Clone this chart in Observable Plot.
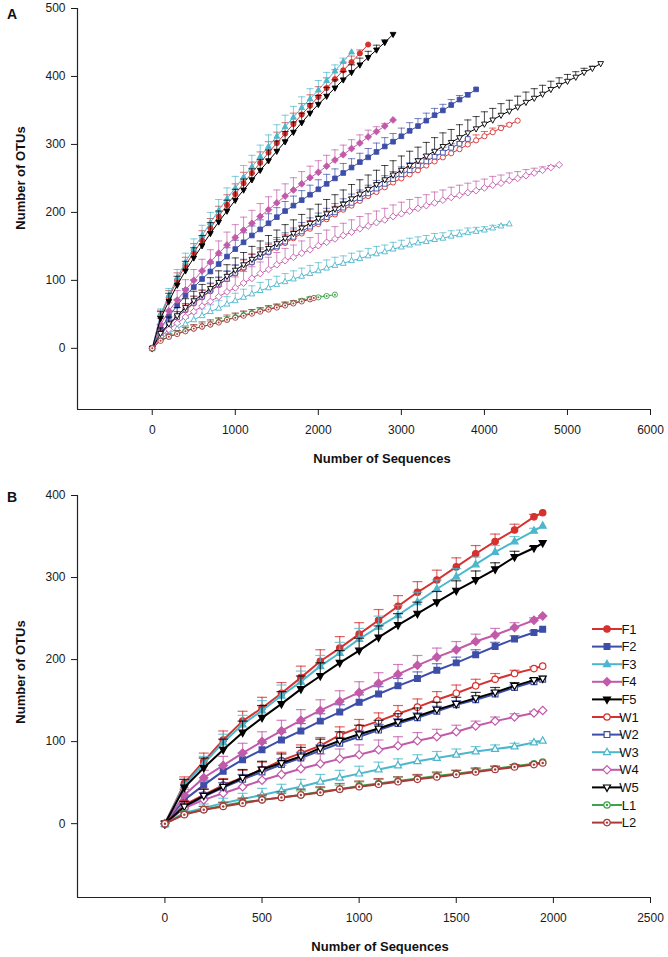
<!DOCTYPE html>
<html><head><meta charset="utf-8">
<script src="https://cdn.jsdelivr.net/npm/d3@7"></script>
<script src="https://cdn.jsdelivr.net/npm/@observablehq/plot@0.6"></script>
<style>
body{margin:0;background:#fff;}
#wrap{position:relative;width:668px;height:957px;overflow:hidden;}
#wrap svg{display:block;}
</style></head><body><div id="wrap"></div>
<script>
// ---- series meta ----
const seriesNames  = ["F1","F2","F3","F4","F5","W1","W2","W3","W4","W5","L1","L2"];
const seriesColors = ["#d6302f","#3d4ea8","#4cb7cc","#c25aa9","#000000","#d6302f","#3d4ea8","#4cb7cc","#c25aa9","#000000","#3fa24a","#a83a3a"];
const seriesShapes = ["circle","square","triangle","diamond","triangleDown","circle","square","triangle","diamond","triangleDown","dotCircle","dotCircle"];
const seriesFilled = [true,true,true,true,true,false,false,false,false,false,false,false];
const stepSize = 100;

// ---- panel A : full depth ----
const depthA = [2600,3900,2400,2900,2900,4400,3800,4300,4900,5400,2200,1945];
const xTicksA = [0,1000,2000,3000,4000,5000,6000];
const yTicksA = [0,100,200,300,400,500];
const F1_A = [0,48,75,100,122,141,159,177,194,211,227,243,258,273,288,302,316,330,344,357,370,383,396,409,421,434,447];
const F2_A = [0,29,47,63,78,90,102,113,124,135,146,156,166,175,184,193,202,210,218,226,234,242,250,258,266,274,281,289,297,304,312,320,327,335,343,350,358,366,373,381];
const F3_A = [0,50,78,104,127,147,166,185,203,220,236,252,267,282,297,312,326,340,354,367,380,394,408,422,436];
const F4_A = [0,35,55,71,86,100,114,127,140,152,163,174,184,194,204,214,224,233,242,251,259,268,277,285,294,302,311,319,327,336];
const F5_A = [0,44,69,93,114,133,151,169,186,202,218,233,248,262,276,290,304,318,332,346,359,371,383,395,406,417,428,439,450,462];
const W1_A = [0,22,35,46,56,66,75,84,93,102,110,118,126,134,141,148,155,162,169,176,183,190,197,204,210,217,224,230,237,244,250,256,262,269,275,281,287,293,300,306,312,318,324,329,335];
const W2_A = [0,20,34,46,57,67,76,85,94,102,111,119,127,135,142,150,157,164,172,179,186,193,200,207,214,221,228,235,242,249,256,262,269,275,282,288,295,301,308];
const W3_A = [0,14,22,29,36,42,48,54,59,65,70,75,80,85,89,94,98,102,106,110,114,118,122,125,129,132,136,139,142,146,149,152,155,157,160,162,165,167,170,172,174,177,180,183];
const W4_A = [0,17,28,37,46,54,62,69,76,83,89,96,103,110,116,123,129,134,140,145,151,156,161,166,171,176,180,185,189,194,198,202,206,210,214,218,222,225,229,232,236,240,243,247,250,254,258,262,266,270];
const W5_A = [0,22,36,48,60,70,79,88,97,106,115,123,131,139,147,154,162,169,177,184,191,198,205,212,220,227,234,241,248,255,262,269,276,283,290,297,303,310,317,323,330,336,343,349,355,362,368,374,381,387,393,399,406,412,419];
const L1_A = [0,12,17,22,26,29,32,35,39,42,46,49,52,55,58,61,64,67,70,73,75,77,79];
const L2_A = [0,11,17,21,25,29,32,35,38,42,45,48,51,54,57,60,63,66,69,72,74];

const F1_A_sd = [0,8,10,11,12,13,14,14,15,15,15,16,16,16,16,16,16,16,16,16,15,15,14,12,9,5,0];
const F2_A_sd = [0,6,8,9,10,11,12,12,13,13,13,14,14,14,14,14,14,14,14,14,14,14,14,14,13,13,13,13,13,12,12,12,11,11,10,9,8,6,3,0];
const F3_A_sd = [0,8,10,12,13,14,15,15,16,16,17,17,17,17,17,17,17,16,16,15,14,12,9,5,0];
const F4_A_sd = [0,9,12,14,15,16,17,18,18,19,19,19,19,19,19,19,18,18,18,17,17,16,15,14,13,12,10,7,4,0];
const F5_A_sd = [0,10,12,13,14,15,15,16,16,16,16,16,16,16,16,15,15,15,14,14,13,13,12,12,11,10,9,7,4,0];
const W1_A_sd = [0,5,7,8,9,10,10,11,11,11,12,12,12,12,12,12,12,12,12,12,12,12,12,12,12,12,12,12,11,11,11,11,11,10,10,10,9,9,8,8,7,6,4,2,0];
const W2_A_sd = [0,5,7,8,9,10,10,11,11,12,12,12,12,13,13,13,13,13,13,13,13,13,13,13,13,12,12,12,12,11,11,11,10,10,9,8,6,3,0];
const W3_A_sd = [0,5,6,7,8,9,10,10,11,11,11,12,12,12,12,12,12,12,12,12,12,12,12,11,11,11,11,11,10,10,10,10,9,9,9,8,8,7,7,6,5,4,2,0];
const W4_A_sd = [0,7,9,11,12,13,14,15,15,16,16,17,17,17,18,18,18,18,18,18,18,18,18,18,18,18,18,17,17,17,17,17,16,16,16,15,15,15,14,14,13,13,12,11,10,9,7,5,3,0];
const W5_A_sd = [0,8,10,12,13,14,15,16,17,17,18,18,19,19,19,20,20,20,20,21,21,21,21,21,21,21,21,21,21,21,21,21,20,20,20,20,19,19,19,18,18,17,17,16,16,15,14,13,12,11,10,8,6,3,0];
const L1_A_sd = [0,3,4,4,5,5,5,5,5,5,5,5,5,4,4,4,4,3,3,3,2,1,0];
const L2_A_sd = [0,3,4,5,6,6,7,7,7,7,7,7,6,6,6,5,5,4,3,2,0];

// ---- panel B : rarefied to 1945 ----
const depthB = [1945,1945,1945,1945,1945,1945,1945,1945,1945,1945,1945,1945];
const xTicksB = [0,500,1000,1500,2000,2500];
const yTicksB = [0,100,200,300,400];
const F1_B = [0,49,76,102,125,141,159,178,198,214,231,248,265,282,297,313,329,344,358,374,379];
const F2_B = [0,29,47,64,78,90,102,113,125,136,148,158,168,177,187,196,206,216,225,233,237];
const F3_B = [0,47,73,99,121,138,156,173,192,208,225,240,254,270,286,301,316,331,344,357,363];
const F4_B = [0,35,56,71,86,100,113,126,138,149,160,171,182,193,203,212,222,230,239,248,253];
const F5_B = [0,44,68,90,111,129,146,164,180,196,211,227,242,256,270,284,297,310,325,336,342];
const W1_B = [0,23,35,47,56,66,77,86,95,108,117,125,134,142,151,159,168,176,183,189,192];
const W2_B = [0,20,33,44,54,63,72,80,89,98,106,114,122,129,137,145,151,158,166,173,176];
const W3_B = [0,13,19,25,30,35,40,45,51,56,61,66,71,76,80,84,88,91,94,99,101];
const W4_B = [0,19,29,37,45,53,60,67,73,79,84,90,95,101,106,112,119,125,130,135,138];
const W5_B = [0,21,34,45,56,66,74,82,92,101,109,116,124,131,139,146,153,160,168,175,177];
const L1_B = [0,12,17,22,26,29,32,35,39,42,46,49,52,55,58,61,64,67,70,73,75];
const L2_B = [0,11,17,21,25,29,32,35,38,42,45,48,51,54,57,60,63,66,69,72,74];

const F1_B_sd = [0,8,10,11,12,13,13,14,14,14,14,13,13,13,12,11,10,9,7,3,0];
const F2_B_sd = [0,5,6,7,8,8,9,9,9,9,9,9,9,8,8,7,6,5,4,2,0];
const F3_B_sd = [0,7,9,10,11,12,13,13,13,13,13,13,12,12,11,10,9,8,6,3,0];
const F4_B_sd = [0,7,9,11,12,12,13,13,13,13,13,13,12,12,11,10,9,8,6,3,0];
const F5_B_sd = [0,10,12,13,14,15,15,16,16,15,15,14,14,14,13,12,11,8,7,2,0];
const W1_B_sd = [0,5,7,8,9,9,10,10,10,10,10,10,10,10,10,10,8,7,4,2,0];
const W2_B_sd = [0,4,5,6,6,6,7,7,7,7,7,7,6,6,6,5,4,4,3,1,0];
const W3_B_sd = [0,4,5,6,7,8,8,9,9,9,9,9,8,8,8,7,6,5,4,2,0];
const W4_B_sd = [0,6,8,9,10,11,11,12,12,12,12,12,11,10,9,8,6,5,4,2,0];
const W5_B_sd = [0,6,8,9,10,10,11,11,11,11,11,10,10,10,9,8,7,6,4,2,0];
const L1_B_sd = [0,3,4,4,5,5,5,5,5,5,5,5,5,4,4,4,3,3,2,1,0];
const L2_B_sd = [0,3,4,5,6,6,7,7,7,7,7,7,6,6,6,5,5,4,3,2,0];

// ---- symbols ----
function makeSymbol(pts){
  return {draw(ctx,size){const r=Math.sqrt(size/Math.PI);
    ctx.moveTo(pts[0][0]*r,pts[0][1]*r);
    for(let i=1;i<pts.length;i++) ctx.lineTo(pts[i][0]*r,pts[i][1]*r);
    ctx.closePath();}};
}
const SYM = {
  circle: d3.symbolCircle,
  dotCircle: d3.symbolCircle,
  square: makeSymbol([[-0.9,-0.9],[0.9,-0.9],[0.9,0.9],[-0.9,0.9]]),
  triangle: makeSymbol([[0,-1.25],[1.1,0.75],[-1.1,0.75]]),
  triangleDown: makeSymbol([[0,1.25],[1.1,-0.75],[-1.1,-0.75]]),
  diamond: makeSymbol([[0,-1.3],[1.3,0],[0,1.3],[-1.3,0]])
};
const capSymbol = {draw(ctx,size){const r=Math.sqrt(size/Math.PI); ctx.moveTo(-r,0); ctx.lineTo(r,0);}};

const FONT = '"Liberation Sans", Arial, Helvetica, sans-serif';

function panel(cfg){
  const marks = [
    Plot.ruleY([cfg.yDomain[0]], {stroke:"#222", strokeWidth:1.2}),
    Plot.ruleX([cfg.xDomain[0]], {stroke:"#222", strokeWidth:1.2}),
    Plot.axisX(cfg.xTicks, {tickSize:6, tickPadding:10, tickFormat:d=>String(d), label:null, fontSize:12}),
    Plot.axisY(cfg.yTicks, {tickSize:6, tickPadding:6, tickFormat:d=>String(d), label:null, fontSize:12})
  ];
  seriesNames.forEach((name,k)=>{
    const vals = cfg.values[k], sds = cfg.sds[k];
    const rows = vals.map((v,i)=>({x:Math.min(i*stepSize,cfg.depth[k]), y:v, sd:sds[i]}));
    const col = seriesColors[k];
    const eb = rows.filter(d=>d.sd>0);
    marks.push(Plot.ruleX(eb,{x:"x", y1:"y", y2:d=>d.y+d.sd, stroke:col, strokeWidth:cfg.ebWidth, strokeOpacity:cfg.ebOpacity}));
    marks.push(Plot.dot(eb,{x:"x", y:d=>d.y+d.sd, symbol:capSymbol, r:cfg.capR, stroke:col, fill:"none", strokeWidth:cfg.ebWidth, strokeOpacity:cfg.ebOpacity}));
    marks.push(Plot.line(rows,{x:"x", y:"y", stroke:col, strokeWidth:cfg.lineWidth}));
    marks.push(Plot.dot(rows,{x:"x", y:"y", symbol:SYM[seriesShapes[k]], r:cfg.r, fill:seriesFilled[k]?col:"white", stroke:col, strokeWidth:cfg.markStroke}));
    if (seriesShapes[k]==="dotCircle") marks.push(Plot.dot(rows,{x:"x", y:"y", r:cfg.r*0.38, fill:col, stroke:"none"}));
  });
  return Plot.plot({
    width:668, height:cfg.height,
    marginLeft:77, marginRight:18, marginTop:cfg.marginTop, marginBottom:cfg.marginBottom,
    x:{domain:cfg.xDomain}, y:{domain:cfg.yDomain},
    style:{fontFamily:FONT, fontSize:"12px", color:"#1a1a1a", background:"white", overflow:"visible"},
    marks
  });
}

function addText(svg, x, y, txt, opts={}){
  const t = d3.select(svg).append("text")
    .attr("x",x).attr("y",y).text(txt)
    .attr("font-family",FONT).attr("font-size",opts.size||13)
    .attr("font-weight",opts.weight||"bold").attr("fill","#111")
    .attr("text-anchor",opts.anchor||"middle").attr("dominant-baseline","central");
  if (opts.rotate) t.attr("transform",`rotate(-90,${x},${y})`);
  return t;
}

const wrap = document.getElementById("wrap");

const svgA = panel({
  height:470, marginTop:8, marginBottom:61,
  xDomain:[-900,6000], yDomain:[-90,500], xTicks:xTicksA, yTicks:yTicksA,
  values:[F1_A,F2_A,F3_A,F4_A,F5_A,W1_A,W2_A,W3_A,W4_A,W5_A,L1_A,L2_A],
  sds:[F1_A_sd,F2_A_sd,F3_A_sd,F4_A_sd,F5_A_sd,W1_A_sd,W2_A_sd,W3_A_sd,W4_A_sd,W5_A_sd,L1_A_sd,L2_A_sd],
  depth:depthA, r:2.6, capR:3.6, lineWidth:1, markStroke:0.9, ebWidth:1, ebOpacity:0.7
});
wrap.appendChild(svgA);
addText(svgA, 7, 14, "A", {size:14, anchor:"start"});
addText(svgA, 20, 178, "Number of OTUs", {rotate:true});
addText(svgA, 382, 458, "Number of Sequences");

const svgB = panel({
  height:487, marginTop:25, marginBottom:60,
  xDomain:[-450,2500], yDomain:[-90,400], xTicks:xTicksB, yTicks:yTicksB,
  values:[F1_B,F2_B,F3_B,F4_B,F5_B,W1_B,W2_B,W3_B,W4_B,W5_B,L1_B,L2_B],
  sds:[F1_B_sd,F2_B_sd,F3_B_sd,F4_B_sd,F5_B_sd,W1_B_sd,W2_B_sd,W3_B_sd,W4_B_sd,W5_B_sd,L1_B_sd,L2_B_sd],
  depth:depthB, r:3.2, capR:5, lineWidth:2, markStroke:1.2, ebWidth:1.2, ebOpacity:0.75
});
wrap.appendChild(svgB);
addText(svgB, 7, 27, "B", {size:14, anchor:"start"});
addText(svgB, 20, 202, "Number of OTUs", {rotate:true});
addText(svgB, 380, 476, "Number of Sequences");

// legend (panel B)
const lg = d3.select(svgB).append("g").attr("transform","translate(592,159)");
seriesNames.forEach((name,k)=>{
  const g = lg.append("g").attr("transform",`translate(0,${k*17.6})`);
  const col = seriesColors[k];
  g.append("line").attr("x1",0).attr("x2",30).attr("y1",0).attr("y2",0).attr("stroke",col).attr("stroke-width",2);
  const r = 3.2;
  g.append("path").attr("transform","translate(15,0)")
    .attr("d", d3.symbol().type(SYM[seriesShapes[k]]).size(Math.PI*r*r)())
    .attr("fill", seriesFilled[k]?col:"white").attr("stroke",col).attr("stroke-width",1.2);
  if (seriesShapes[k]==="dotCircle") g.append("circle").attr("cx",15).attr("cy",0).attr("r",r*0.38).attr("fill",col);
  g.append("text").attr("x",37).attr("y",0).attr("dominant-baseline","central")
    .attr("font-family",FONT).attr("font-size",13).attr("fill","#111").text(name);
});
</script></body></html>
